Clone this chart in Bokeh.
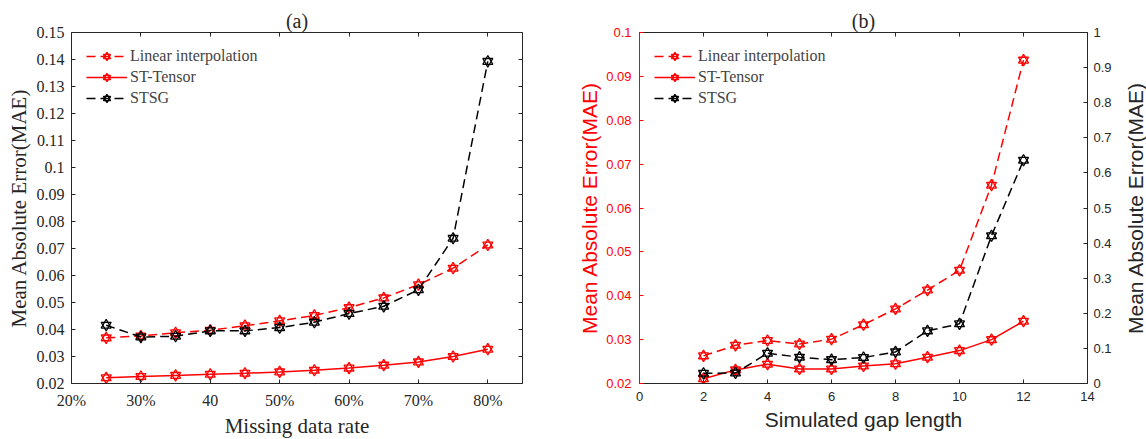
from bokeh.plotting import figure
from bokeh.layouts import row
from bokeh.models import (FixedTicker, CustomJSTickFormatter, LinearAxis, Range1d,
                          Legend, LegendItem)
from bokeh.embed import file_html
from bokeh.resources import INLINE

# ---------------- data: panel (a) ----------------
rate = [25, 30, 35, 40, 45, 50, 55, 60, 65, 70, 75, 80]
lin_a = [0.0369, 0.0376, 0.0388, 0.0397, 0.0414, 0.0432, 0.0452, 0.0481, 0.0517, 0.0566, 0.0627, 0.0713]
stt_a = [0.0221, 0.0226, 0.0230, 0.0234, 0.0238, 0.0243, 0.0249, 0.0257, 0.0268, 0.0280, 0.0300, 0.0327]
stsg_a = [0.0416, 0.0372, 0.0375, 0.0395, 0.0395, 0.0407, 0.0427, 0.0459, 0.0486, 0.0547, 0.0738, 0.1393]

xa_ticks = [20, 30, 40, 50, 60, 70, 80]
xa_labels = ["20%", "30%", "40", "50%", "60%", "70%", "80%"]
ya_ticks = [0.02, 0.03, 0.04, 0.05, 0.06, 0.07, 0.08, 0.09, 0.1, 0.11, 0.12, 0.13, 0.14, 0.15]
ya_labels = ["0.02", "0.03", "0.04", "0.05", "0.06", "0.07", "0.08", "0.09", "0.1",
             "0.11", "0.12", "0.13", "0.14", "0.15"]

# ---------------- data: panel (b) ----------------
gap = [2, 3, 4, 5, 6, 7, 8, 9, 10, 11, 12]
lin_b = [0.0263, 0.0287, 0.0298, 0.0290, 0.0301, 0.0334, 0.0370, 0.0413, 0.0458, 0.0652, 0.0937]
stt_b = [0.0211, 0.0231, 0.0244, 0.0233, 0.0233, 0.0240, 0.0245, 0.0260, 0.0275, 0.0300, 0.0342]
stsg_b = [0.029, 0.030, 0.086, 0.075, 0.068, 0.074, 0.090, 0.150, 0.170, 0.421, 0.636]

xb_ticks = [0, 2, 4, 6, 8, 10, 12, 14]
xb_labels = ["0", "2", "4", "6", "8", "10", "12", "14"]
yb_ticks = [0.02, 0.03, 0.04, 0.05, 0.06, 0.07, 0.08, 0.09, 0.1]
yb_labels = ["0.02", "0.03", "0.04", "0.05", "0.06", "0.07", "0.08", "0.09", "0.1"]
yb2_ticks = [0, 0.1, 0.2, 0.3, 0.4, 0.5, 0.6, 0.7, 0.8, 0.9, 1]
yb2_labels = ["0", "0.1", "0.2", "0.3", "0.4", "0.5", "0.6", "0.7", "0.8", "0.9", "1"]

series_names = ["Linear interpolation", "ST-Tensor", "STSG"]
y_title = "Mean Absolute Error(MAE)"

DARK = "#262626"
RED = "#ff0000"
SERIF = "Liberation Serif"
SANS = "Liberation Sans"
DASH = "9 5"


def fmt(ticks, labels):
    return CustomJSTickFormatter(args=dict(v=ticks, l=labels), code="""
        for (let i = 0; i < v.length; i++) { if (Math.abs(v[i] - tick) < 1e-9) return l[i]; }
        return '';
    """)


def style_axis(ax, ticks, labels, color, font, size, show=True):
    ax.ticker = FixedTicker(ticks=ticks)
    if show:
        ax.formatter = fmt(ticks, labels)
    else:
        ax.formatter = CustomJSTickFormatter(code="return '';")
    ax.axis_line_color = color
    ax.axis_line_width = 1
    ax.major_tick_line_color = color
    ax.major_tick_in = 4
    ax.major_tick_out = 0
    ax.minor_tick_line_color = None
    ax.major_label_text_color = color
    ax.major_label_text_font = font
    ax.major_label_text_font_size = size
    ax.axis_label_text_font_style = "normal"
    ax.axis_label_text_color = color
    if not show:
        ax.major_label_standoff = 0


def add_series(p, x, y, color, dash, y_range_name="default"):
    kw = dict(y_range_name=y_range_name)
    ln = p.line(x, y, line_color=color, line_width=1.5, line_dash=dash, **kw)
    m1 = p.scatter(x, y, marker="triangle", size=10, line_color=color, line_width=1.3,
                   fill_alpha=0, **kw)
    m2 = p.scatter(x, y, marker="inverted_triangle", size=10, line_color=color, line_width=1.3,
                   fill_alpha=0, **kw)
    return [ln, m1, m2]


def make_legend(p, items):
    lg = Legend(items=items, location="top_left", margin=2, padding=13, spacing=3,
                glyph_width=41, glyph_height=18, label_height=18, label_standoff=3,
                label_text_font=SERIF, label_text_font_size="16px",
                background_fill_alpha=0, border_line_alpha=0)
    p.add_layout(lg)


def style_title(p):
    p.title.text_font = SERIF
    p.title.text_font_size = "20px"
    p.title.text_font_style = "normal"
    p.title.align = "center"
    p.title.text_color = DARK
    p.title.standoff = 2


# ---------------- panel (a) ----------------
p1 = figure(frame_width=451, frame_height=351, x_range=Range1d(20, 85),
            y_range=Range1d(0.02, 0.15), output_backend="svg", toolbar_location=None,
            min_border_left=71, min_border_right=48, min_border_top=32, min_border_bottom=56,
            title="(a)")
p1.grid.visible = False
p1.outline_line_color = None
style_title(p1)
style_axis(p1.xaxis[0], xa_ticks, xa_labels, DARK, SERIF, "16px")
style_axis(p1.yaxis[0], ya_ticks, ya_labels, DARK, SERIF, "16px")
p1.xaxis[0].axis_label = "Missing data rate"
p1.yaxis[0].axis_label = y_title
for ax in (p1.xaxis[0], p1.yaxis[0]):
    ax.axis_label_text_font = SERIF
    ax.axis_label_text_font_size = "21px"
p1.xaxis[0].major_label_standoff = 8
p1.xaxis[0].axis_label_standoff = 2
p1.yaxis[0].major_label_standoff = 7
p1.yaxis[0].axis_label_standoff = 3
top1 = LinearAxis()
style_axis(top1, xa_ticks, xa_labels, DARK, SERIF, "16px", show=False)
p1.add_layout(top1, "above")
right1 = LinearAxis()
style_axis(right1, ya_ticks, ya_labels, DARK, SERIF, "16px", show=False)
p1.add_layout(right1, "right")

r_lin_a = add_series(p1, rate, lin_a, RED, DASH)
r_stt_a = add_series(p1, rate, stt_a, RED, "solid")
r_stsg_a = add_series(p1, rate, stsg_a, "black", DASH)
make_legend(p1, [LegendItem(label=series_names[0], renderers=r_lin_a),
                 LegendItem(label=series_names[1], renderers=r_stt_a),
                 LegendItem(label=series_names[2], renderers=r_stsg_a)])

# ---------------- panel (b) ----------------
p2 = figure(frame_width=448, frame_height=351, x_range=Range1d(0, 14),
            y_range=Range1d(0.02, 0.1), output_backend="svg", toolbar_location=None,
            min_border_left=69, min_border_right=33, min_border_top=32, min_border_bottom=56,
            title="(b)")
p2.extra_y_ranges = {"r": Range1d(0, 1)}
p2.grid.visible = False
p2.outline_line_color = None
style_title(p2)
style_axis(p2.xaxis[0], xb_ticks, xb_labels, DARK, SANS, "13px")
style_axis(p2.yaxis[0], yb_ticks, yb_labels, RED, SANS, "13px")
p2.xaxis[0].axis_label = "Simulated gap length"
p2.yaxis[0].axis_label = y_title
p2.xaxis[0].major_label_standoff = 8
p2.xaxis[0].axis_label_standoff = 4
p2.yaxis[0].major_label_standoff = 8
p2.yaxis[0].axis_label_standoff = 2
for ax in (p2.xaxis[0], p2.yaxis[0]):
    ax.axis_label_text_font = SANS
    ax.axis_label_text_font_size = "21px"
right2 = LinearAxis(y_range_name="r")
style_axis(right2, yb2_ticks, yb2_labels, DARK, SANS, "13px")
right2.major_label_standoff = 6
p2.add_layout(right2, "right")
top2 = LinearAxis()
style_axis(top2, xb_ticks, xb_labels, DARK, SANS, "13px", show=False)
p2.add_layout(top2, "above")

r_lin_b = add_series(p2, gap, lin_b, RED, DASH)
r_stt_b = add_series(p2, gap, stt_b, RED, "solid")
r_stsg_b = add_series(p2, gap, stsg_b, "black", DASH, y_range_name="r")
make_legend(p2, [LegendItem(label=series_names[0], renderers=r_lin_b),
                 LegendItem(label=series_names[1], renderers=r_stt_b),
                 LegendItem(label=series_names[2], renderers=r_stsg_b)])

# ---------------- title strip for the right-hand axis (reads bottom-to-top) ----------------
p3 = figure(frame_width=1, frame_height=351, x_range=Range1d(0, 1), y_range=Range1d(0, 1),
            output_backend="svg", toolbar_location=None,
            min_border_left=25, min_border_right=0, min_border_top=32, min_border_bottom=56)
p3.grid.visible = False
p3.outline_line_color = None
p3.xaxis.visible = False
ax3 = p3.yaxis[0]
ax3.formatter = CustomJSTickFormatter(code="return '';")
ax3.axis_line_color = None
ax3.major_tick_line_color = None
ax3.minor_tick_line_color = None
ax3.major_label_standoff = 0
ax3.axis_label = y_title
ax3.axis_label_standoff = 0
ax3.axis_label_text_font = SANS
ax3.axis_label_text_font_size = "21px"
ax3.axis_label_text_font_style = "normal"
ax3.axis_label_text_color = DARK

layout = row(p1, p2, p3)
open("out.html", "w").write(file_html(layout, INLINE))
